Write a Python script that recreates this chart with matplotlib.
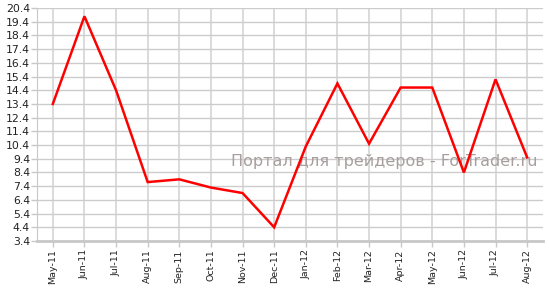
import matplotlib
matplotlib.use("Agg")
import matplotlib.pyplot as plt

months = ["May-11", "Jun-11", "Jul-11", "Aug-11", "Sep-11", "Oct-11", "Nov-11", "Dec-11",
          "Jan-12", "Feb-12", "Mar-12", "Apr-12", "May-12", "Jun-12", "Jul-12", "Aug-12"]
values = [13.4, 19.8, 14.4, 7.7, 7.9, 7.3, 6.9, 4.4,
          10.3, 14.9, 10.5, 14.6, 14.6, 8.4, 15.2, 9.5]
y_ticks = [3.4 + i for i in range(18)]

fig = plt.figure(figsize=(5.49, 2.99), dpi=100)
ax = fig.add_axes([0.0674, 0.194, 0.9216, 0.779])

x = list(range(len(months)))
ax.plot(x, values, color="#ff0000", lw=1.8, zorder=3, solid_joinstyle="miter")

ax.set_xlim(-0.5, len(months) - 0.5)
ax.set_ylim(3.4, 20.4)
ax.set_yticks(y_ticks)
ax.set_yticklabels([f"{v:.1f}" for v in y_ticks], fontsize=7.8, color="#222222")
ax.set_xticks(x)
ax.set_xticklabels(months, rotation=90, fontsize=6.8, color="#222222")

ax.grid(True, axis="y", color="#cccccc", lw=1.0, zorder=0)
ax.grid(True, axis="x", color="#dadada", lw=1.4, zorder=0)
ax.set_axisbelow(True)
for s in ["top", "right"]:
    ax.spines[s].set_visible(False)
ax.spines["left"].set_color("#c8c8c8")
ax.spines["bottom"].set_color("#c8c8c8")
ax.spines["bottom"].set_linewidth(2)
ax.tick_params(axis="both", colors="#c8c8c8", length=4, width=1, labelcolor="#222222")
ax.tick_params(axis="x", pad=2)
ax.tick_params(axis="y", pad=1)

ax.text(0.99, 0.34, "Портал для трейдеров - ForTrader.ru", transform=ax.transAxes,
        ha="right", va="center", fontsize=11.5, color="#a89e9e", zorder=2)

fig.savefig("out.png", dpi=100)
